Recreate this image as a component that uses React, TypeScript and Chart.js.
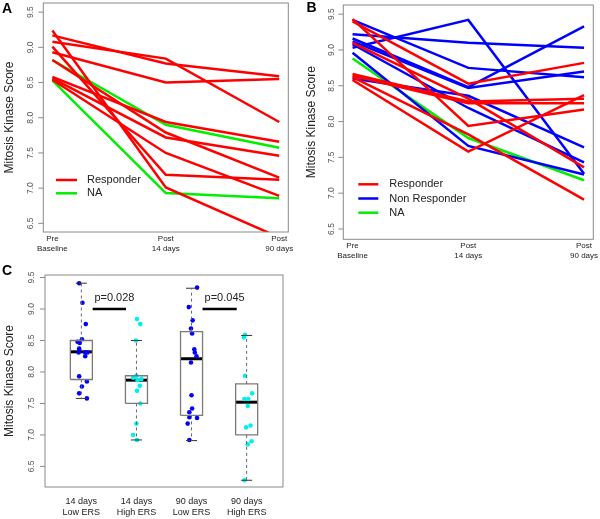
import React, { useEffect, useRef } from "react";
import { Chart, registerables } from "chart.js";
Chart.register(...registerables);

const RED = "#ff0000";
const GREEN = "#00ee00";
const BLUE = "#0000ff";
const CYAN = "#00f0f0";
const FONT = '"Liberation Sans", Arial, Helvetica, sans-serif';

// ---------- Panels A & B ----------
const timePoints = [1, 2, 3];
const timeLabels = [["Pre", "Baseline"], ["Post", "14 days"], ["Post", "90 days"]];
const yTicks = [6.5, 7.0, 7.5, 8.0, 8.5, 9.0, 9.5];
const yTitle = "Mitosis Kinase Score";

const aResponder = [
  [9.24, 7.01, 6.30],
  [9.17, 8.77, 8.59],
  [9.08, 8.84, 7.94],
  [9.01, 7.19, 7.12],
  [8.93, 8.50, 8.55],
  [8.82, 7.79, 7.15],
  [8.58, 7.94, 7.66],
  [8.56, 7.72, 7.46],
  [8.54, 7.50, 6.89],
];
const aNA = [
  [8.82, 7.90, 7.575],
  [8.53, 6.93, 6.855],
];

const bResponder = [
  [9.43, 7.94, 8.17],
  [9.40, 8.53, 8.82],
  [9.10, 8.32, 7.36],
  [8.665, 8.28, 8.32],
  [8.64, 8.255, 8.255],
  [8.58, 7.58, 8.37],
  [8.62, 7.82, 6.91],
];
const bNonResponder = [
  [9.22, 9.10, 9.03],
  [9.03, 9.42, 7.27],
  [9.16, 8.48, 9.33],
  [9.42, 8.75, 8.62],
  [9.12, 8.47, 8.70],
  [8.60, 8.36, 7.64],
  [8.96, 7.66, 7.26],
  [9.08, 8.19, 7.43],
];
const bNA = [[8.88, 7.77, 7.18]];

const aLegend = ["Responder", "NA"];
const bLegend = ["Responder", "Non Responder", "NA"];

// ---------- Panel C ----------
const groupPos = [1, 2, 3, 4];
const groupLabels = [["14 days", "Low ERS"], ["14 days", "High ERS"], ["90 days", "Low ERS"], ["90 days", "High ERS"]];
const boxLow = [7.58, 6.92, 6.91, 6.28];
const boxQ1 = [7.88, 7.50, 7.31, 7.00];
const boxMed = [8.32, 7.87, 8.21, 7.52];
const boxQ3 = [8.50, 7.94, 8.64, 7.81];
const boxHigh = [9.41, 8.50, 9.33, 8.58];

const g1X = [0.96, 1.02, 1.08, 1.01, 0.93, 0.97, 0.96, 0.96, 0.95, 1.07, 1.11, 1.07, 0.96, 1.10, 1.01, 0.96, 1.10];
const g1Y = [9.41, 9.10, 8.76, 8.52, 8.48, 8.46, 8.37, 8.35, 8.31, 8.31, 8.31, 8.25, 7.93, 7.85, 7.77, 7.66, 7.58];
const g2X = [2.01, 2.07, 1.99, 2.0, 1.94, 2.09, 2.02, 2.06, 2.01, 2.07, 2.0, 1.94, 2.01];
const g2Y = [8.84, 8.76, 8.50, 7.94, 7.91, 7.89, 7.87, 7.78, 7.70, 7.50, 7.18, 7.00, 6.92];
const g3X = [3.10, 2.95, 3.02, 2.99, 3.01, 3.05, 3.06, 3.09, 2.99, 3.0, 3.01, 2.96, 2.96, 3.10, 2.93, 2.96];
const g3Y = [9.34, 9.03, 8.82, 8.69, 8.61, 8.36, 8.31, 8.25, 8.15, 7.63, 7.42, 7.36, 7.28, 7.27, 7.18, 6.92];
const g4X = [3.97, 3.95, 3.97, 4.10, 3.96, 4.03, 4.02, 4.07, 3.99, 4.02, 4.09, 3.96];
const g4Y = [8.59, 8.55, 7.94, 7.66, 7.57, 7.57, 7.46, 7.15, 7.12, 6.85, 6.90, 6.28];

const pLabels = ["p=0.028", "p=0.045"];
const pFrom = [1.205, 3.2];
const pTo = [1.81, 3.82];
const pLineY = [9.0, 9.0];
const pTextX = [1.6, 3.6];
const pTextY = [9.17, 9.17];

// ---------- helpers ----------
type AxesOpts = {
  letter: string;
  letterX: number;
  letterY: number;
  titleX: number;
  tickGap: number;
  xLabels: string[][];
  xLabelPos: number[];
  xLabelDy: number[];
  xLabelFont: number;
  legend?: { labels: string[]; colors: string[]; x0: number; x1: number; tx: number; y0: number; dy: number };
  texts?: { labels: string[]; xs: number[]; ys: number[] };
};

function axesPlugin(o: AxesOpts) {
  return {
    id: "rAxes",
    afterDraw(chart: any) {
      const ctx = chart.ctx as CanvasRenderingContext2D;
      const ca = chart.chartArea;
      const ys = chart.scales.y;
      const xs = chart.scales.x;
      ctx.save();
      // box
      ctx.strokeStyle = "#8a8a8a";
      ctx.lineWidth = 1;
      ctx.strokeRect(ca.left, ca.top, ca.right - ca.left, ca.bottom - ca.top);
      // y ticks
      yTicks.forEach((v) => {
        const py = ys.getPixelForValue(v);
        if (py < ca.top - 1 || py > ca.bottom + 1) return;
        ctx.strokeStyle = "#8a8a8a";
        ctx.beginPath();
        ctx.moveTo(ca.left - 5, py);
        ctx.lineTo(ca.left, py);
        ctx.stroke();
        ctx.save();
        ctx.translate(ca.left - o.tickGap, py);
        ctx.rotate(-Math.PI / 2);
        ctx.fillStyle = "#555";
        ctx.font = `8.5px ${FONT}`;
        ctx.textAlign = "center";
        ctx.textBaseline = "middle";
        ctx.fillText(v.toFixed(1), 0, 0);
        ctx.restore();
      });
      // x labels
      ctx.fillStyle = "#222";
      ctx.font = `${o.xLabelFont}px ${FONT}`;
      ctx.textAlign = "center";
      ctx.textBaseline = "middle";
      o.xLabels.forEach((lines, i) => {
        const px = xs.getPixelForValue(o.xLabelPos[i]);
        lines.forEach((t, j) => ctx.fillText(t, px, ca.bottom + o.xLabelDy[j]));
      });
      // y title
      ctx.save();
      ctx.translate(o.titleX, (ca.top + ca.bottom) / 2);
      ctx.rotate(-Math.PI / 2);
      ctx.fillStyle = "#222";
      ctx.font = `12px ${FONT}`;
      ctx.textAlign = "center";
      ctx.textBaseline = "middle";
      ctx.fillText(yTitle, 0, 0);
      ctx.restore();
      // panel letter
      ctx.fillStyle = "#000";
      ctx.font = `bold 14px ${FONT}`;
      ctx.textAlign = "left";
      ctx.textBaseline = "middle";
      ctx.fillText(o.letter, o.letterX, o.letterY);
      // legend
      if (o.legend) {
        const L = o.legend;
        L.labels.forEach((lab, i) => {
          const y = L.y0 + i * L.dy;
          ctx.strokeStyle = L.colors[i];
          ctx.lineWidth = 2.5;
          ctx.beginPath();
          ctx.moveTo(L.x0, y);
          ctx.lineTo(L.x1, y);
          ctx.stroke();
          ctx.fillStyle = "#222";
          ctx.font = `11px ${FONT}`;
          ctx.textAlign = "left";
          ctx.textBaseline = "middle";
          ctx.fillText(lab, L.tx, y);
        });
      }
      // annotation texts
      if (o.texts) {
        ctx.fillStyle = "#222";
        ctx.font = `11px ${FONT}`;
        ctx.textAlign = "center";
        ctx.textBaseline = "middle";
        o.texts.labels.forEach((t, i) => {
          ctx.fillText(t, xs.getPixelForValue(o.texts!.xs[i]), ys.getPixelForValue(o.texts!.ys[i]));
        });
      }
      ctx.restore();
    },
  };
}

const lineDs = (rows: number[][], color: string) =>
  rows.map((r) => ({
    data: r.map((y, i) => ({ x: timePoints[i], y })),
    borderColor: color,
    backgroundColor: color,
    borderWidth: 2.5,
    pointRadius: 0,
    showLine: true,
    tension: 0,
    fill: false,
  }));

const baseOptions = (padding: any, xMin: number, xMax: number, yMin: number, yMax: number) => ({
  responsive: false,
  animation: false as const,
  devicePixelRatio: 1,
  events: [],
  layout: { padding },
  plugins: { legend: { display: false }, tooltip: { enabled: false } },
  scales: {
    x: { type: "linear" as const, display: false, min: xMin, max: xMax },
    y: { type: "linear" as const, display: false, min: yMin, max: yMax },
  },
});

function configA(): any {
  return {
    type: "scatter",
    data: { datasets: [...lineDs(aResponder, RED), ...lineDs(aNA, GREEN)] },
    options: baseOptions({ left: 43.3, right: 11.7, top: 3, bottom: 30 }, 0.92, 3.08, 6.377, 9.63),
    plugins: [
      axesPlugin({
        letter: "A", letterX: 2, letterY: 9, titleX: 10, tickGap: 12.6,
        xLabels: timeLabels, xLabelPos: timePoints, xLabelDy: [7, 16.5], xLabelFont: 8,
        legend: { labels: aLegend, colors: [RED, GREEN], x0: 56, x1: 77, tx: 87, y0: 180, dy: 13.3 },
      }),
    ],
  };
}

function configB(): any {
  return {
    type: "scatter",
    data: { datasets: [...lineDs(bResponder, RED), ...lineDs(bNonResponder, BLUE), ...lineDs(bNA, GREEN)] },
    options: baseOptions({ left: 43.3, right: 6.7, top: 5, bottom: 22.7 }, 0.92, 3.08, 6.356, 9.628),
    plugins: [
      axesPlugin({
        letter: "B", letterX: 6.5, letterY: 8, titleX: 11.7, tickGap: 11.6,
        xLabels: timeLabels, xLabelPos: timePoints, xLabelDy: [6, 16], xLabelFont: 8,
        legend: { labels: bLegend, colors: [RED, BLUE, GREEN], x0: 58.3, x1: 78.3, tx: 89.3, y0: 184.3, dy: 14.2 },
      }),
    ],
  };
}

function configC(): any {
  const ds: any[] = [];
  const seg = (pts: { x: number; y: number }[], color: string, width: number, dash: number[] = []) => ({
    data: pts,
    borderColor: color,
    backgroundColor: color,
    borderWidth: width,
    borderDash: dash,
    pointRadius: 0,
    showLine: true,
    tension: 0,
    fill: false,
  });
  const hw = 0.2;
  const cw = 0.1;
  groupPos.forEach((g, i) => {
    ds.push(seg([{ x: g, y: boxQ3[i] }, { x: g, y: boxHigh[i] }], "#666", 1, [3, 3]));
    ds.push(seg([{ x: g, y: boxQ1[i] }, { x: g, y: boxLow[i] }], "#666", 1, [3, 3]));
    ds.push(seg([{ x: g - cw, y: boxHigh[i] }, { x: g + cw, y: boxHigh[i] }], "#333", 1));
    ds.push(seg([{ x: g - cw, y: boxLow[i] }, { x: g + cw, y: boxLow[i] }], "#333", 1));
    ds.push(
      seg(
        [
          { x: g - hw, y: boxQ1[i] },
          { x: g + hw, y: boxQ1[i] },
          { x: g + hw, y: boxQ3[i] },
          { x: g - hw, y: boxQ3[i] },
          { x: g - hw, y: boxQ1[i] },
        ],
        "#7a7a7a",
        1.3
      )
    );
  });
  const pts = (xs: number[], ys: number[], color: string) => ({
    data: ys.map((y, i) => ({ x: xs[i], y })),
    backgroundColor: color,
    borderColor: color,
    borderWidth: 0,
    pointRadius: 2.3,
    showLine: false,
  });
  ds.push(pts(g1X, g1Y, BLUE));
  ds.push(pts(g2X, g2Y, CYAN));
  ds.push(pts(g3X, g3Y, BLUE));
  ds.push(pts(g4X, g4Y, CYAN));
  groupPos.forEach((g, i) => {
    ds.push(seg([{ x: g - hw, y: boxMed[i] }, { x: g + hw, y: boxMed[i] }], "#000", 3));
  });
  pFrom.forEach((f, i) => {
    ds.push(seg([{ x: f, y: pLineY[i] }, { x: pTo[i], y: pLineY[i] }], "#000", 2.5));
  });
  return {
    type: "scatter",
    data: { datasets: ds },
    options: baseOptions({ left: 45, right: 17, top: 13, bottom: 32 }, 0.34, 4.66, 6.173, 9.54),
    plugins: [
      axesPlugin({
        letter: "C", letterX: 2, letterY: 9, titleX: 10, tickGap: 13.3,
        xLabels: groupLabels, xLabelPos: groupPos, xLabelDy: [15, 26], xLabelFont: 9,
        texts: { labels: pLabels, xs: pTextX, ys: pTextY },
      }),
    ],
  };
}

function Panel(props: { left: number; top: number; width: number; height: number; make: () => any }) {
  const ref = useRef<HTMLCanvasElement>(null);
  useEffect(() => {
    const chart = new Chart(ref.current!, props.make());
    return () => chart.destroy();
  }, []);
  return (
    <canvas
      ref={ref}
      width={props.width}
      height={props.height}
      style={{ position: "absolute", left: props.left, top: props.top, width: props.width, height: props.height }}
    />
  );
}

export default function App() {
  return (
    <div style={{ position: "absolute", left: 0, top: 0, width: 600, height: 519, background: "#fff", overflow: "hidden" }}>
      <Panel left={0} top={0} width={300} height={262} make={configA} />
      <Panel left={300} top={0} width={300} height={262} make={configB} />
      <Panel left={0} top={262} width={300} height={257} make={configC} />
    </div>
  );
}
